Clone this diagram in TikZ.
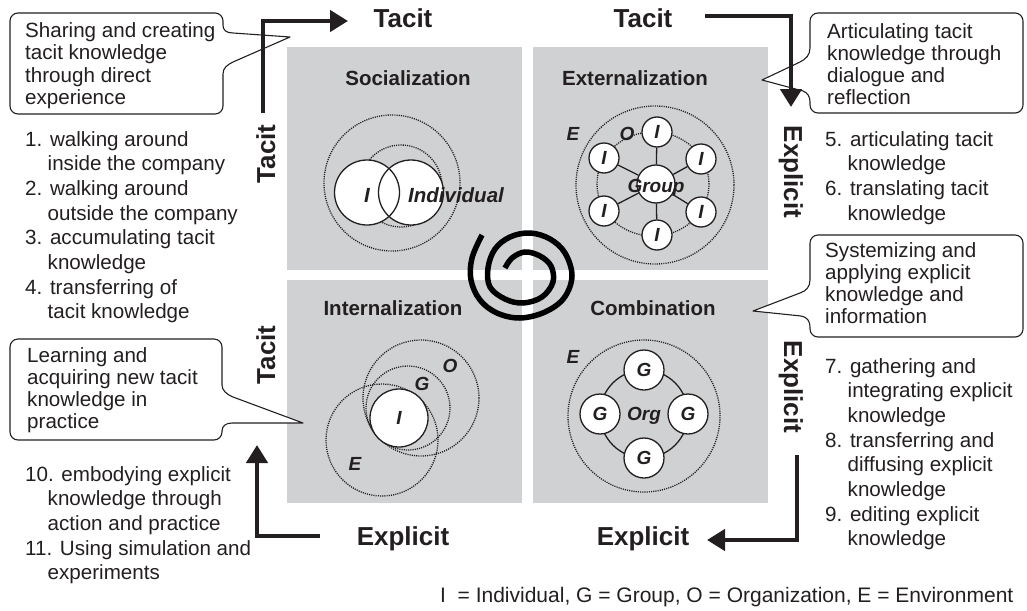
\documentclass[tikz,border=0pt]{standalone}
\usepackage{fontspec}
\setmainfont{Liberation Sans}
\usetikzlibrary{arrows.meta}

\definecolor{ink}{HTML}{231F20}
\definecolor{panelgray}{HTML}{D0D1D2}

% left-aligned block of lines whose baseline is the first line
\newcommand\rows[1]{\begin{tabular}[t]{@{}l@{}}#1\end{tabular}}
% hanging indent for the continuation lines of a numbered item
\newcommand\hh{\hspace*{22.5pt}}

\tikzset{
  panel/.style={fill=panelgray, draw=none},
  title/.style={font=\fontsize{20.5}{24}\selectfont\bfseries, text=ink, inner sep=0, anchor=base},
  axislabel/.style={font=\fontsize{26}{30}\selectfont\bfseries, text=ink, inner sep=0, anchor=base},
  body/.style={font=\fontsize{20.6}{24.7}\selectfont, text=ink, inner sep=0, anchor=base west},
  note/.style={font=\fontsize{20.6}{22.3}\selectfont, text=ink, inner sep=0, anchor=base west},
  callout/.style={draw=ink, line width=1.1pt, fill=white, line join=round},
  dotring/.style={draw=ink, line width=1.3pt, dash pattern=on 1.1pt off 1.1pt},
  solidring/.style={draw=ink, line width=1.3pt},
  lbl/.style={font=\fontsize{19}{22}\selectfont\bfseries\itshape, text=ink, inner sep=0, anchor=base},
  member/.style={circle, draw=ink, fill=white, line width=1.3pt, inner sep=0,
                 font=\fontsize{19}{22}\selectfont\bfseries\itshape, text=ink},
  flow/.style={draw=ink, line width=4.8pt, -{Triangle[length=18pt,width=21pt]}},
  spiralline/.style={draw=black, line width=5.5pt},
}

\begin{document}
\begin{tikzpicture}[x=1pt,y=-1pt]
\useasboundingbox (0,0) rectangle (1027,610);

% ---------- four quadrants ----------
\fill[panel] (287,47) rectangle (522,270);
\fill[panel] (533,47) rectangle (768,270);
\fill[panel] (287,280) rectangle (522,503);
\fill[panel] (533,280) rectangle (768,503);

\node[title] (soc) at (408,85) {Socialization};
\node[title] (ext) at (635,85) {Externalization};
\node[title] (int) at (393,315) {Internalization};
\node[title] (com) at (653,315) {Combination};

% ---------- socialization: two individuals ----------
\draw[dotring] (392,183) circle (68pt);
\draw[dotring] (401,186) circle (41pt);
\fill[white] (367,192.5) circle (32.5pt) (411,192.5) circle (32.5pt);
\draw[solidring] (367,192.5) circle (32.5pt) (411,192.5) circle (32.5pt);
\node[lbl, font=\fontsize{20.5}{24}\selectfont\bfseries\itshape] (sI) at (367,202) {I};
\node[lbl, font=\fontsize{20.5}{24}\selectfont\bfseries\itshape] (sInd) at (456,202) {Individual};

% ---------- externalization: individuals around a group ----------
\draw[dotring] (655,185) circle (79pt);
\draw[dotring] (653,184) ellipse (56pt and 52pt);
\node[circle, draw=ink, fill=white, line width=1.3pt, minimum size=38pt, inner sep=0] (grp) at (656,184) {};
\node[member, minimum size=30pt] (x1) at (657,132) {I};
\node[member, minimum size=30pt] (x2) at (701,159) {I};
\node[member, minimum size=30pt] (x3) at (701,212) {I};
\node[member, minimum size=30pt] (x4) at (657,235) {I};
\node[member, minimum size=30pt] (x5) at (604,211) {I};
\node[member, minimum size=30pt] (x6) at (604,158) {I};
\foreach \m in {x1,x2,x3,x4,x5,x6} \draw[solidring] (grp) -- (\m);
\node[lbl] (grpl) at (656,192) {Group};
\node[lbl] (xE) at (573,140) {E};
\node[lbl] (xO) at (627,140) {O};

% ---------- internalization: individual within group, organization, environment ----------
\draw[dotring] (382,440) circle (56pt);
\draw[dotring] (408,408) circle (42pt);
\draw[dotring] (421,398) circle (58pt);
\node[member, minimum size=58pt] (iI) at (399,418) {I};
\node[lbl] (iO) at (450,372) {O};
\node[lbl] (iG) at (422,390) {G};
\node[lbl] (iE) at (355,470) {E};

% ---------- combination: groups in an organization ----------
\draw[dotring] (644,416) circle (76pt);
\draw[solidring] (644,414) circle (44pt);
\node[member, minimum size=40pt] (g1) at (644,370) {G};
\node[member, minimum size=40pt] (g2) at (600,414) {G};
\node[member, minimum size=40pt] (g3) at (688,414) {G};
\node[member, minimum size=40pt] (g4) at (644,458) {G};
\node[lbl] (org) at (644,420) {Org};
\node[lbl] (cE) at (573,363) {E};

% ---------- knowledge spiral ----------
\draw[spiralline] plot[smooth, tension=0.6] coordinates {
  (482,235) (472,258) (471,280) (480,300) (497,313) (520,318) (545,312)
  (564,298) (572,276) (565,253) (550,239) (530,233) (510,237) (495,249)
  (488,268) (490,287) (505,299) (523,303) (542,297) (553,282) (551,266)
  (540,256) (525,252) (512,258) (505,268)};

% ---------- callouts ----------
\draw[callout] (18,13) -- (215,13) .. controls (219.4,13) and (223,16.6) .. (223,21)
  -- (223,25) .. controls (223,30) and (226,33) .. (233,33) -- (290,37)
  -- (233,62) .. controls (227,65) and (223,68) .. (223,74)
  -- (223,106) .. controls (223,110.4) and (219.4,114) .. (215,114)
  -- (18,114) .. controls (13.6,114) and (10,110.4) .. (10,106)
  -- (10,21) .. controls (10,16.6) and (13.6,13) .. (18,13) -- cycle;
\node[note] (c1) at (25,37.5) {\rows{Sharing and creating\\tacit knowledge\\through direct\\experience}};

\draw[callout] (818,13) -- (1015,13) .. controls (1019.4,13) and (1023,16.6) .. (1023,21)
  -- (1023,105) .. controls (1023,109.4) and (1019.4,113) .. (1015,113)
  -- (818,113) .. controls (813.6,113) and (810,109.4) .. (810,105)
  -- (810,102) .. controls (810,97) and (808,93) .. (803,91) -- (762,80)
  -- (800,62) .. controls (806,59) and (810,55) .. (810,48)
  -- (810,21) .. controls (810,16.6) and (813.6,13) .. (818,13) -- cycle;
\node[note] (c2) at (827,38) {\rows{Articulating tacit\\knowledge through\\dialogue and\\reflection}};

\draw[callout] (818,235) -- (1015,235) .. controls (1019.4,235) and (1023,238.6) .. (1023,243)
  -- (1023,329) .. controls (1023,333.4) and (1019.4,337) .. (1015,337)
  -- (818,337) .. controls (813.6,337) and (810,333.4) .. (810,329)
  -- (810,327) .. controls (810,321) and (807,317) .. (801,316) -- (753,311)
  -- (800,293) .. controls (806,291) and (810,287) .. (810,280)
  -- (810,243) .. controls (810,238.6) and (813.6,235) .. (818,235) -- cycle;
\node[note] (c3) at (825,257) {\rows{Systemizing and\\applying explicit\\knowledge and\\information}};

\draw[callout] (18,339) -- (214,339) .. controls (218.4,339) and (222,342.6) .. (222,347)
  -- (222,385) .. controls (222,390) and (226,394) .. (233,397) -- (303,423)
  -- (232,423) .. controls (226,423) and (222,426) .. (222,431)
  -- (222,432) .. controls (222,436.4) and (218.4,440) .. (214,440)
  -- (18,440) .. controls (13.6,440) and (10,436.4) .. (10,432)
  -- (10,347) .. controls (10,342.6) and (13.6,339) .. (18,339) -- cycle;
\node[note] (c4) at (27,362) {\rows{Learning and\\acquiring new tacit\\knowledge in\\practice}};

% ---------- conversion arrows ----------
\coordinate (a1s) at (263,113); \coordinate (a1e) at (348,21);
\coordinate (a2s) at (705,16);  \coordinate (a2e) at (791,107);
\coordinate (a3s) at (797,455); \coordinate (a3e) at (707,540);
\coordinate (a4s) at (320,536); \coordinate (a4e) at (257,445);
\draw[flow] (a1s) |- (a1e);
\draw[flow] (a2s) -| (a2e);
\draw[flow] (a3s) |- (a3e);
\draw[flow] (a4s) -| (a4e);

% ---------- axis labels ----------
\node[axislabel] (tTop1) at (403,28) {Tacit};
\node[axislabel] (tTop2) at (643,28) {Tacit};
\node[axislabel] (eBot1) at (403,545) {Explicit};
\node[axislabel] (eBot2) at (643,545) {Explicit};
\node[axislabel, rotate=90] (tLeft1) at (275,154) {Tacit};
\node[axislabel, rotate=90] (tLeft2) at (275,355) {Tacit};
\node[axislabel, rotate=-90] (eRight1) at (784,172) {Explicit};
\node[axislabel, rotate=-90] (eRight2) at (784,387) {Explicit};

% ---------- activity lists ----------
\node[body] (s1) at (25,146)   {\rows{1. walking around\\\hh inside the company}};
\node[body] (s2) at (25,195.4) {\rows{2. walking around\\\hh outside the company}};
\node[body] (s3) at (25,244.8) {\rows{3. accumulating tacit\\\hh knowledge}};
\node[body] (s4) at (25,294.2) {\rows{4. transferring of\\\hh tacit knowledge}};

\node[body] (e5) at (825,146)   {\rows{5. articulating tacit\\\hh knowledge}};
\node[body] (e6) at (825,195.4) {\rows{6. translating tacit\\\hh knowledge}};

\node[body] (m7) at (825,373)   {\rows{7. gathering and\\\hh integrating explicit\\\hh knowledge}};
\node[body] (m8) at (825,447.1) {\rows{8. transferring and\\\hh diffusing explicit\\\hh knowledge}};
\node[body] (m9) at (825,521.2) {\rows{9. editing explicit\\\hh knowledge}};

\node[body] (n10) at (25,481)   {\rows{10. embodying explicit\\\hh knowledge through\\\hh action and practice}};
\node[body] (n11) at (25,555.1) {\rows{11. Using simulation and\\\hh experiments}};

% ---------- legend ----------
\node[body, font=\fontsize{21}{25}\selectfont] (legend) at (440,602) {I\ \ = Individual, G = Group, O = Organization, E = Environment};

\end{tikzpicture}
\end{document}
